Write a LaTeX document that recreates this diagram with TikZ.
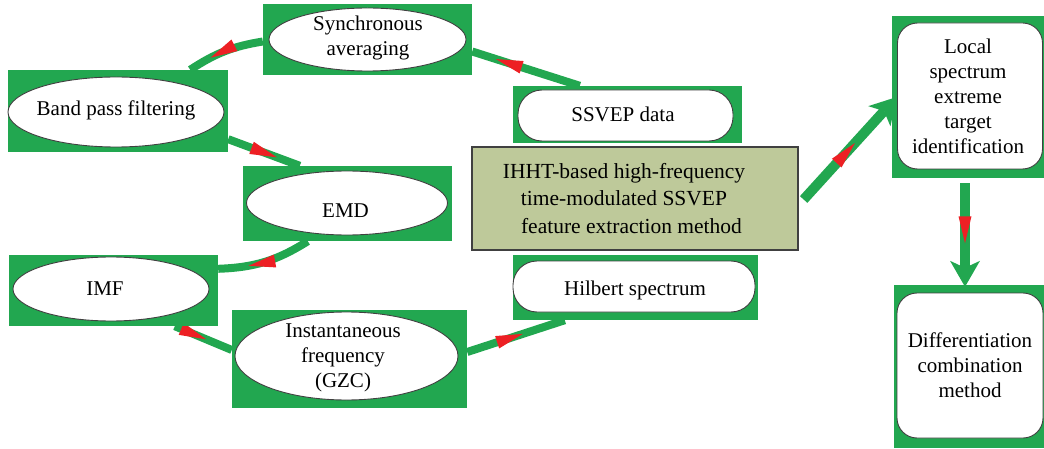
\documentclass[tikz,border=0pt]{standalone}
\usepackage{fontspec}
\setmainfont{Liberation Serif}
\usetikzlibrary{shapes.geometric,arrows.meta,decorations.markings,backgrounds}

\definecolor{boxgreen}{RGB}{34,167,80}
\definecolor{tipred}{RGB}{237,32,36}
\definecolor{olive}{RGB}{190,201,154}
\definecolor{rim}{RGB}{64,64,64}

\tikzset{
  frame/.style={rectangle, fill=boxgreen, draw=none, inner sep=0pt},
  oval/.style={ellipse, fill=white, draw=rim, line width=0.9pt, inner sep=0pt},
  pill/.style={rectangle, rounded corners=24pt, fill=white, draw=rim, line width=0.9pt, inner sep=0pt},
  tile/.style={rectangle, rounded corners=20pt, fill=white, draw=rim, line width=0.9pt, inner sep=0pt},
  txt/.style={inner sep=0pt, align=center, font=\fontsize{21}{25}\selectfont},
  tipmark/.style={postaction={decorate},
    decoration={markings, mark=at position #1 with
      {\fill[tipred] (0pt,0pt) -- (-27pt,6.5pt) -- (-27pt,-6.5pt) -- cycle;}}},
  link/.style={draw=boxgreen, line width=8pt, tipmark=#1},
  bigarrow/.style={draw=boxgreen, line width=10pt, tipmark=#1,
    -{Stealth[length=26pt,width=30pt,inset=7pt,line width=0pt,fill=boxgreen]}},
}

\begin{document}
\begin{tikzpicture}[x=1pt,y=-1pt]
\useasboundingbox (0,0) rectangle (1044,449);

% green frames with their white shapes
\node[frame, minimum width=209pt, minimum height=71pt] (syncR) at (367.5,39.5) {};
\node[oval, minimum width=197pt, minimum height=63pt] (syncS) at (367.5,39.5) {};
\node[txt] (sync) at (368,38) {Synchronous\\averaging};

\node[frame, minimum width=220pt, minimum height=82pt] (bpfR) at (118,111) {};
\node[oval, minimum width=216pt, minimum height=70pt] (bpfS) at (116,112) {};
\node[txt] (bpf) at (116,110) {Band pass filtering};

\node[frame, minimum width=209pt, minimum height=75pt] (emdR) at (347.5,203.5) {};
\node[oval, minimum width=201pt, minimum height=64pt] (emdS) at (347,203) {};
\node[txt] (emd) at (345.5,210.5) {EMD};

\node[frame, minimum width=209pt, minimum height=71pt] (imfR) at (113.5,290.5) {};
\node[oval, minimum width=196pt, minimum height=64pt] (imfS) at (111,289) {};
\node[txt] (imf) at (105,289) {IMF};

\node[frame, minimum width=235pt, minimum height=98pt] (instR) at (349.5,359) {};
\node[oval, minimum width=223pt, minimum height=88pt] (instS) at (346.5,356) {};
\node[txt] (inst) at (343,358) {Instantaneous\\frequency\\(GZC)};

\node[frame, minimum width=229pt, minimum height=57pt] (ssvepR) at (627.5,114.5) {};
\node[pill, minimum width=215pt, minimum height=51pt] (ssvepS) at (625.5,115.5) {};
\node[txt] (ssvep) at (623,114.5) {SSVEP data};

\node[frame, minimum width=245pt, minimum height=65pt] (hilbR) at (635.5,287.5) {};
\node[pill, minimum width=242pt, minimum height=51pt] (hilbS) at (634,286.5) {};
\node[txt] (hilb) at (635,290) {Hilbert spectrum};

\node[rectangle, fill=olive, draw=rim, line width=1.3pt, minimum width=326pt,
      minimum height=103pt, inner sep=0pt] (ihht) at (635,198.5) {};
\node[txt, font=\fontsize{21.5}{27.5}\selectfont] (ihhtT) at (624,198.5)
  {IHHT-based high-frequency\\time-modulated SSVEP\\\hspace*{15pt}feature extraction method};

\node[frame, minimum width=152pt, minimum height=162pt] (localR) at (968,97) {};
\node[tile, minimum width=145pt, minimum height=146pt] (localS) at (970,96) {};
\node[txt] (local) at (968,96) {Local\\spectrum\\extreme\\target\\identification};

\node[frame, minimum width=150pt, minimum height=163pt] (diffR) at (969,366.5) {};
\node[tile, minimum width=146pt, minimum height=145pt] (diffS) at (970,365.5) {};
\node[txt] (diff) at (970,365) {Differentiation\\combination\\method};

% connectors
\begin{scope}[on background layer]
\draw[link=0.78] ([xshift=67pt]ssvepR.north west) -- ([yshift=-12pt]syncR.east);
\draw[link=0.70] ([yshift=-2pt]syncR.west) to[bend right=12] ([xshift=-38pt]bpfR.north east);
\draw[link=0.68] ([yshift=13pt]bpfR.south east) -- ([xshift=57pt]emdR.north west);
\draw[link=0.68] ([xshift=65pt]emdR.south west) to[bend left=15] ([yshift=-14pt]imfR.north east);
\draw[link=0.55] ([xshift=166pt]imfR.south west) -- ([yshift=9pt]instR.west);
\draw[link=0.57] ([yshift=7pt]instR.east) -- ([xshift=52pt]hilbR.south west);
\draw[bigarrow=0.55] ([xshift=5pt,yshift=-1pt]ihht.east) -- ([xshift=5pt]localR.west);
\draw[bigarrow=0.58] ([xshift=-3pt,yshift=-5pt]localR.south) -- ([xshift=-4pt,yshift=-2pt]diffR.north);
\end{scope}
\end{tikzpicture}
\end{document}
